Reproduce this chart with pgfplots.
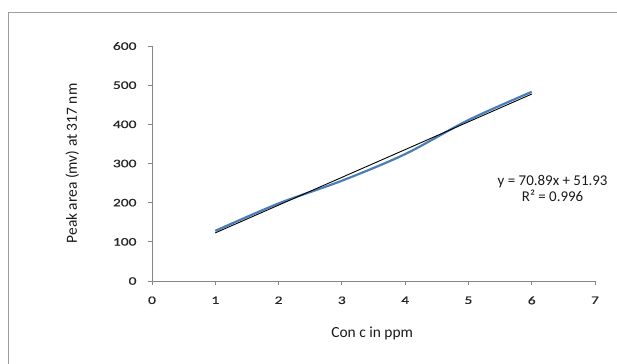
\documentclass[border=0pt]{standalone}
\usepackage{pgfplots}
\pgfplotsset{compat=1.18}
\usepackage{fontspec}
\setmainfont{Carlito}
\newfontfamily\tickfont[FakeStretch=1.35, FakeBold=0.6]{Carlito}
\definecolor{excelblue}{RGB}{74,126,187}
\definecolor{axgray}{RGB}{134,134,134}
\begin{document}
\begin{tikzpicture}[x=1bp,y=1bp]
\path[use as bounding box] (0,0) rectangle (617,363);
\draw[axgray!80, line width=0.8bp] (8,-10) -- (8,351) -- (640,351);
\begin{axis}[
  at={(152bp,82bp)}, anchor=south west,
  scale only axis, width=443bp, height=235bp,
  xmin=0, xmax=7, ymin=0, ymax=600,
  axis lines=left, axis line style={axgray, line width=0.8bp, -},
  xtick={0,...,7}, ytick={0,100,...,600},
  tick style={axgray, line width=0.8bp},
  tick align=outside, major tick length=4bp,
  x tick label style={yshift=-8bp},
  y tick label style={xshift=-8bp},
  ticklabel style={font=\tickfont\fontsize{11.5}{13}\selectfont, text=black!85},
  /pgf/number format/assume math mode=true,
  xlabel={Con c in ppm}, ylabel={Peak area (mv) at 317 nm},
  label style={font=\fontsize{15.5}{18}\selectfont, text=black!90},
  xlabel style={at={(axis description cs:0.497,0)}, anchor=center, yshift=-52bp},
  ylabel style={at={(axis description cs:-0.18,0.5)}, anchor=center},
  clip=false,
]
\addplot[excelblue, line width=2.2bp, smooth, tension=0.5] coordinates {
(1,128) (2,198) (3,256) (4,324) (5,411) (6,483)};
\addplot[black, line width=0.9bp] coordinates {(1,122.82) (6,477.27)};
\node[font=\fontsize{15}{17}\selectfont, align=center, anchor=center, text=black!90] at (axis cs:6.33,237) {y = 70.89x + 51.93\\[-1bp]R² = 0.996};
\end{axis}
\end{tikzpicture}
\end{document}
